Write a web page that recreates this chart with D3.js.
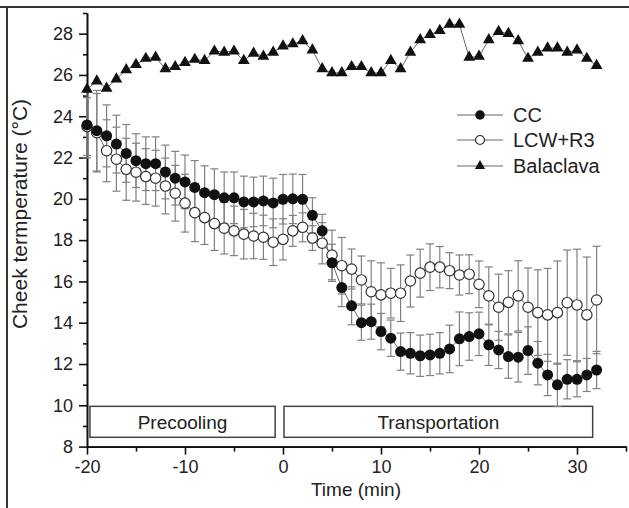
<!DOCTYPE html>
<html>
<head>
<meta charset="utf-8">
<script src="https://cdn.jsdelivr.net/npm/d3@7"></script>
<style>
  body { margin: 0; background: #fff; }
  svg { display: block; font-family: "Liberation Sans", Arial, sans-serif; }
</style>
</head>
<body>
<svg id="drawing_region"></svg>
<script>
const times = [-20,-19,-18,-17,-16,-15,-14,-13,-12,-11,-10,-9,-8,-7,-6,-5,-4,-3,-2,-1,
               0,1,2,3,4,5,6,7,8,9,10,11,12,13,14,15,16,17,18,19,20,21,22,23,24,25,26,27,28,29,30,31,32];

const cc_mean = [23.58,23.3,23.05,22.65,22.2,21.85,21.7,21.7,21.3,21.0,20.82,20.55,20.3,20.2,20.05,20.05,19.85,19.85,19.9,19.8,
                 19.98,20.0,19.98,19.2,18.45,16.9,15.7,14.82,14.0,14.05,13.57,13.25,12.6,12.52,12.4,12.44,12.52,12.73,13.22,13.33,
                 13.46,12.93,12.68,12.36,12.33,12.65,12.04,11.47,10.99,11.26,11.26,11.47,11.71];
const cc_sd = [1.6,1.95,1.5,1.4,1.4,1.3,1.3,1.3,1.3,1.3,1.3,1.3,1.3,1.25,1.25,1.25,1.25,1.2,1.2,1.2,
               1.2,1.2,1.2,0.85,0.8,0.9,0.92,0.92,0.85,0.85,0.88,0.88,0.9,1.0,1.0,1.0,1.0,1.15,1.3,1.15,
               1.05,1.0,0.9,1.05,1.2,1.15,1.05,1.0,1.05,0.95,0.85,0.8,0.9];

const lcw_mean = [23.5,23.2,22.33,21.92,21.43,21.29,21.08,21.0,20.62,20.27,19.79,19.33,19.09,18.8,18.58,18.45,18.29,18.2,18.14,17.9,
                  18.04,18.45,18.62,18.1,17.85,17.28,16.76,16.6,16.07,15.5,15.35,15.43,15.43,16.02,16.4,16.69,16.69,16.52,16.31,16.35,
                  15.86,15.3,14.75,14.99,15.3,14.75,14.49,14.38,14.49,14.97,14.86,14.38,15.1];
const lcw_sd = [1.4,1.9,1.5,1.55,1.5,1.4,1.35,1.35,1.35,1.35,1.4,1.4,1.3,1.3,1.25,1.2,1.2,1.1,1.07,1.13,
                1.0,0.75,0.7,0.6,1.0,1.2,1.37,0.97,1.16,1.5,1.55,1.2,1.37,1.26,1.16,1.13,1.0,0.87,0.97,0.94,
                1.13,1.4,1.6,1.53,1.7,1.9,2.07,2.25,2.5,2.55,2.7,2.8,2.6];

const bala_mean = [25.3,25.7,25.35,25.8,26.25,26.5,26.8,26.85,26.3,26.4,26.6,26.75,26.7,27.15,27.1,27.15,26.7,27.05,26.9,27.1,
                   27.4,27.5,27.65,27.2,26.3,26.1,26.1,26.4,26.4,26.1,26.1,26.7,26.3,27.1,27.7,27.95,28.15,28.45,28.45,26.85,
                   26.9,27.7,28.1,28.0,27.65,26.8,27.1,27.3,27.3,27.1,27.2,26.8,26.45];

const series_names = ['CC', 'LCW+R3', 'Balaclava'];

const phase_names = ['Precooling', 'Transportation'];
const phase_start = [-19.7, 0.1];
const phase_end = [-0.8, 31.6];

const x_major = [-20, -10, 0, 10, 20, 30];
const x_minor = [-15, -5, 5, 15, 25, 35];
const y_major = [8, 10, 12, 14, 16, 18, 20, 22, 24, 26, 28];
const y_minor = [9, 11, 13, 15, 17, 19, 21, 23, 25, 27, 29];

class TempPlot {

    constructor( config ) {
        this.config = config;
        this.init();
    }

    init() {
        let self = this;

        self.svg = d3.select( self.config.parent )
            .attr('width', self.config.width)
            .attr('height', self.config.height);

        // frame of the figure (top and left edges only visible)
        self.svg.append('line')
            .attr('x1', 0).attr('x2', self.config.width)
            .attr('y1', 7).attr('y2', 7)
            .attr('stroke', '#333').attr('stroke-width', 2);
        self.svg.append('line')
            .attr('x1', 7).attr('x2', 7)
            .attr('y1', 7).attr('y2', self.config.height)
            .attr('stroke', '#333').attr('stroke-width', 2);

        self.xscale = d3.scaleLinear()
            .domain([-20, 35])
            .range([87, 626]);

        self.yscale = d3.scaleLinear()
            .domain([8, 29])
            .range([446.6, 13]);

        self.chart = self.svg.append('g');
    }

    render() {
        let self = this;
        const x = self.xscale, y = self.yscale;
        const base = self.yscale(8);

        // phase boxes
        phase_names.forEach( (name, i) => {
            self.chart.append('rect')
                .attr('x', x(phase_start[i]))
                .attr('y', y(9.95))
                .attr('width', x(phase_end[i]) - x(phase_start[i]))
                .attr('height', y(8.45) - y(9.95))
                .attr('fill', 'white')
                .attr('stroke', '#444')
                .attr('stroke-width', 1.5);
            self.chart.append('text')
                .attr('x', (x(phase_start[i]) + x(phase_end[i])) / 2)
                .attr('y', y(9.2))
                .attr('dy', '0.36em')
                .attr('text-anchor', 'middle')
                .attr('font-size', '19px')
                .attr('fill', '#222')
                .text(name);
        });

        // axes
        const fmt = d => String(d);
        const xaxis = d3.axisBottom(x).tickValues(x_major).tickSize(8).tickSizeOuter(0).tickPadding(6).tickFormat(fmt);
        const xminor = d3.axisBottom(x).tickValues(x_minor).tickSize(5).tickSizeOuter(0).tickFormat('');
        const yaxis = d3.axisLeft(y).tickValues(y_major).tickSize(8).tickSizeOuter(0).tickPadding(6).tickFormat(fmt);
        const yminor = d3.axisLeft(y).tickValues(y_minor).tickSize(4).tickSizeOuter(0).tickFormat('');

        [xaxis, xminor].forEach( a => {
            self.chart.append('g')
                .attr('transform', `translate(0, ${base})`)
                .call(a);
        });
        [yaxis, yminor].forEach( a => {
            self.chart.append('g')
                .attr('transform', `translate(${x(-20)}, 0)`)
                .call(a);
        });
        self.chart.selectAll('.domain').attr('stroke', '#111').attr('stroke-width', 1.6);
        self.chart.selectAll('.tick line').attr('stroke', '#111').attr('stroke-width', 1.6);
        self.chart.selectAll('.tick text')
            .attr('font-size', '18px')
            .attr('font-family', '"Liberation Sans", Arial, sans-serif')
            .attr('fill', '#222');

        // axis titles
        self.svg.append('text')
            .attr('x', 356)
            .attr('y', 496)
            .attr('text-anchor', 'middle')
            .attr('font-size', '19px')
            .attr('fill', '#222')
            .text('Time (min)');
        self.svg.append('text')
            .attr('transform', 'translate(27, 214) rotate(-90)')
            .attr('text-anchor', 'middle')
            .attr('font-size', '21px')
            .attr('fill', '#222')
            .text('Cheek termperature (°C)');

        const line = d3.line()
            .x( (d, i) => x(times[i]) )
            .y( d => y(d) );

        const series = [
            { mean: lcw_mean, sd: lcw_sd, type: 'open' },
            { mean: cc_mean, sd: cc_sd, type: 'filled' },
            { mean: bala_mean, sd: null, type: 'tri' }
        ];

        // connecting lines
        series.forEach( s => {
            self.chart.append('path')
                .datum(s.mean)
                .attr('d', line)
                .attr('fill', 'none')
                .attr('stroke', '#666')
                .attr('stroke-width', 1);
        });

        // error bars
        series.filter( s => s.sd ).forEach( s => {
            const g = self.chart.append('g')
                .attr('stroke', '#808080')
                .attr('stroke-width', 1.2);
            s.mean.forEach( (m, i) => {
                const cx = x(times[i]);
                const lo = y(m - s.sd[i]), hi = y(m + s.sd[i]);
                g.append('line').attr('x1', cx).attr('x2', cx).attr('y1', lo).attr('y2', hi);
                g.append('line').attr('x1', cx - 4).attr('x2', cx + 4).attr('y1', lo).attr('y2', lo);
                g.append('line').attr('x1', cx - 4).attr('x2', cx + 4).attr('y1', hi).attr('y2', hi);
            });
        });

        // markers
        series.forEach( s => {
            const sel = self.chart.append('g').selectAll('path')
                .data(s.mean)
                .join('path')
                .attr('transform', (d, i) => `translate(${x(times[i])}, ${y(d)})`);
            self.style_marker(sel, s.type);
        });

        // legend
        const legend_y = [115, 140, 166];
        const types = ['filled', 'open', 'tri'];
        series_names.forEach( (name, i) => {
            self.svg.append('line')
                .attr('x1', 457).attr('x2', 503)
                .attr('y1', legend_y[i]).attr('y2', legend_y[i])
                .attr('stroke', '#666').attr('stroke-width', 1);
            const m = self.svg.append('path')
                .attr('transform', `translate(480, ${legend_y[i]})`);
            self.style_marker(m, types[i], true);
            self.svg.append('text')
                .attr('x', 513)
                .attr('y', legend_y[i])
                .attr('dy', '0.36em')
                .attr('font-size', '20px')
                .attr('fill', '#222')
                .text(name);
        });
    }

    style_marker( sel, type, small ) {
        const k = small ? 0.75 : 1;
        if (type === 'tri') {
            sel.attr('d', d3.symbol(d3.symbolTriangle, 60 * k))
                .attr('fill', '#111');
        } else if (type === 'filled') {
            sel.attr('d', d3.symbol(d3.symbolCircle, 95 * k))
                .attr('fill', '#111');
        } else {
            sel.attr('d', d3.symbol(d3.symbolCircle, 85 * k))
                .attr('fill', 'white')
                .attr('stroke', '#333')
                .attr('stroke-width', 1.2);
        }
    }
}

const config = {
    parent: '#drawing_region',
    width: 629,
    height: 508
};

const temp_plot = new TempPlot( config );
temp_plot.render();
</script>
</body>
</html>
